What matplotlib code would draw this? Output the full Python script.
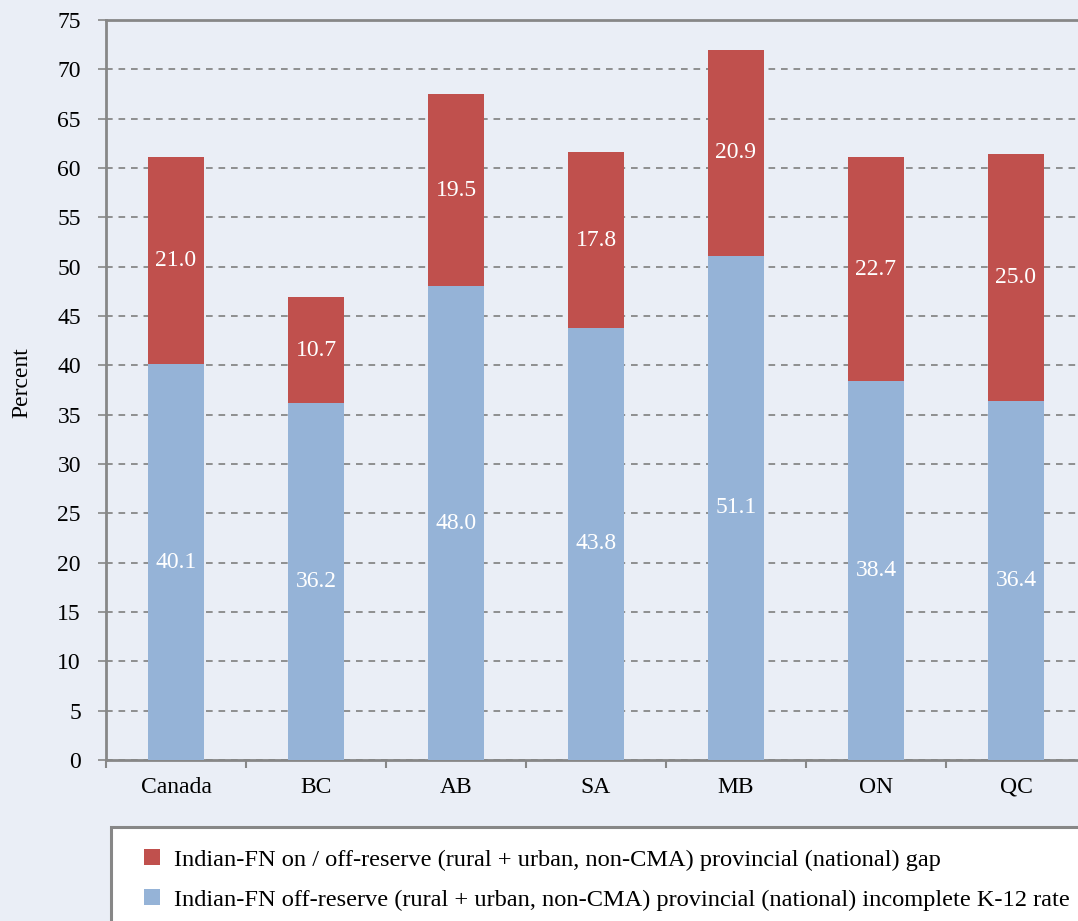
import matplotlib.pyplot as plt
from matplotlib.patches import Rectangle
import numpy as np

regions = ['Canada', 'BC', 'AB', 'SA', 'MB', 'ON', 'QC']
incomplete_rate = [40.1, 36.2, 48.0, 43.8, 51.1, 38.4, 36.4]
gap = [21.0, 10.7, 19.5, 17.8, 20.9, 22.7, 25.0]
y_ticks = list(range(0, 80, 5))

label_gap = 'Indian-FN on / off-reserve (rural + urban, non-CMA) provincial (national) gap'
label_rate = 'Indian-FN off-reserve (rural + urban, non-CMA) provincial (national) incomplete K-12 rate'

bg = '#eaeef6'
red = '#c0504d'
blue = '#95b3d7'
grey = '#878787'

plt.rcParams['font.family'] = ['Liberation Serif', 'DejaVu Serif']
plt.rcParams['font.size'] = 17

W, H = 1078, 921
fig = plt.figure(figsize=(W / 100, H / 100), dpi=100, facecolor=bg)

# plot area runs past the right edge of the figure
left, right, top, bottom = 106, 1086, 20, 760
ax = fig.add_axes([left / W, 1 - bottom / H, (right - left) / W, (bottom - top) / H])
ax.set_facecolor(bg)

x = np.arange(len(regions))
w = 0.4
ax.bar(x, incomplete_rate, w, color=blue, zorder=3, label=label_rate)
ax.bar(x, gap, w, bottom=incomplete_rate, color=red, zorder=3, label=label_gap)

for i in range(len(regions)):
    ax.text(x[i], incomplete_rate[i] / 2, f'{incomplete_rate[i]:.1f}', ha='center', va='center',
            color='white', fontsize=17, zorder=4)
    ax.text(x[i], incomplete_rate[i] + gap[i] / 2, f'{gap[i]:.1f}', ha='center', va='center',
            color='white', fontsize=17, zorder=4)

ax.set_xlim(-0.5, len(regions) - 0.5)
ax.set_ylim(0, 75)
ax.set_yticks(y_ticks)
ax.yaxis.grid(True, linestyle=(0, (4, 3.5)), color='#7f7f7f', linewidth=1.2, zorder=0)
ax.set_xticks(x)
ax.set_xticklabels(regions, fontsize=17)
ax.set_xticks(np.arange(len(regions) + 1) - 0.5, minor=True)
ax.tick_params(axis='x', which='major', length=0, pad=12)
ax.tick_params(axis='x', which='minor', length=6, width=1.5, color=grey, direction='out')
ax.tick_params(axis='y', length=6, width=1.2, color=grey, direction='out', pad=12, labelsize=17)

for side in ['left', 'bottom', 'top']:
    ax.spines[side].set_color(grey)
    ax.spines[side].set_linewidth(2)
ax.spines['right'].set_visible(False)

fig.text(22 / W, 1 - 383 / H, 'Percent', rotation=90, ha='center', va='center', fontsize=17)

# legend box, open to the right and bottom
fig.patches.append(Rectangle((111 / W, -0.05), 1.0, 1 - 827 / H + 0.05, transform=fig.transFigure,
                             facecolor='white', edgecolor=grey, linewidth=2.2, zorder=1))
handles, labels = ax.get_legend_handles_labels()
fig.legend(handles[::-1], labels[::-1], loc='upper left', bbox_to_anchor=(134 / W, 1 - 839 / H),
           frameon=False, handlelength=0.65, handleheight=0.65, handletextpad=0.6,
           labelspacing=0.75, fontsize=17.6, borderaxespad=0)

fig.savefig('out.png', dpi=100, facecolor=bg)
